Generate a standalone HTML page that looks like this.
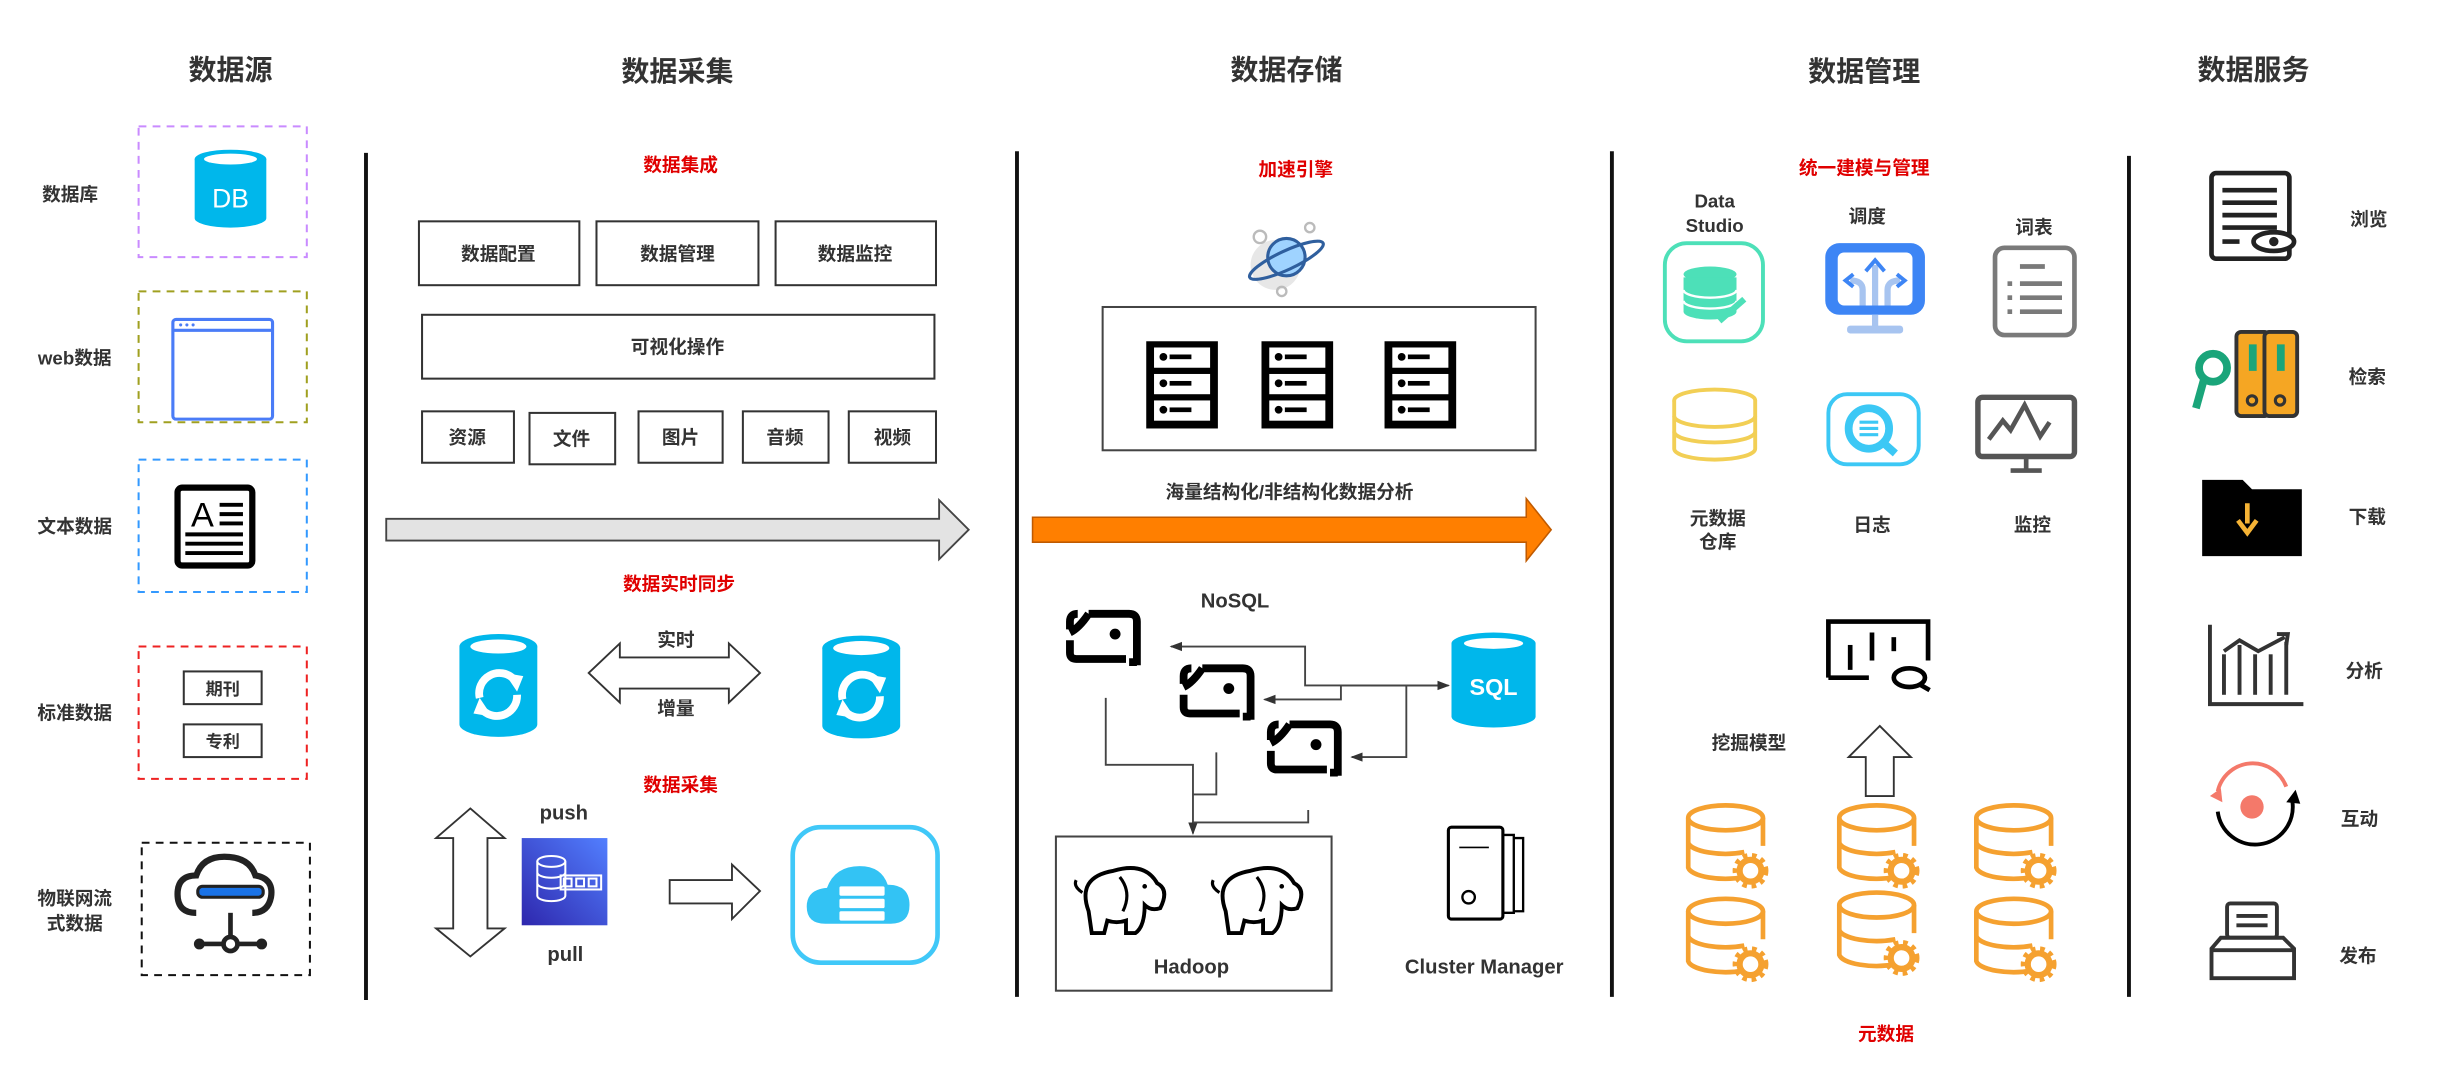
<!DOCTYPE html>
<html><head><meta charset="utf-8"><style>
html,body{margin:0;padding:0;background:#fff;}
svg{display:block;}
text{font-family:"Liberation Sans","Noto Sans CJK SC",sans-serif;font-weight:bold;fill:#333;text-anchor:middle;}
.t{font-size:18px;}
.r{fill:#e00000;font-size:12px;}
.s{font-size:12px;}
.b{fill:#fff;stroke:#333;stroke-width:1.3;}
</style></head><body>
<svg width="2442" height="1089" viewBox="0 0 1568 699" xmlns="http://www.w3.org/2000/svg">
<defs>
<marker id="ah" markerWidth="8" markerHeight="8" refX="7" refY="4" orient="auto" markerUnits="userSpaceOnUse"><path d="M0,1 L8,4 L0,7 Z" fill="#333"/></marker>
<linearGradient id="aws" x1="0" y1="1" x2="1" y2="0"><stop offset="0" stop-color="#2e27ad"/><stop offset="1" stop-color="#527fff"/></linearGradient>
<g id="dbg">
<ellipse cx="0" cy="-16" rx="24" ry="8" fill="none" stroke="#f5a130" stroke-width="3"/>
<path d="M-24,-16 V16 A24,8 0 0 0 12,22 M-24,0 A24,8 0 0 0 12,6 M24,-16 V2" fill="none" stroke="#f5a130" stroke-width="3"/>
<circle cx="16" cy="18" r="7" fill="none" stroke="#f5a130" stroke-width="4"/>
<circle cx="16" cy="18" r="10" fill="none" stroke="#f5a130" stroke-width="3" stroke-dasharray="3 3"/>
</g>
<g id="brk">
<path d="M16,5 H42 Q47,5 47,10 V38 M47,36 H42 M4,22 V30 Q4,34 8,34 H40 M4,15 V10 Q4,5 9,5 M4,17 Q10,14 16,5" fill="none" stroke="#000" stroke-width="5"/>
<circle cx="33" cy="18" r="3.5" fill="#000"/>
</g>
<g id="srv">
<rect x="0" y="0" width="46" height="56" fill="#000"/>
<rect x="5" y="4" width="36" height="13" fill="#fff"/><rect x="5" y="21" width="36" height="13" fill="#fff"/><rect x="5" y="38" width="36" height="13" fill="#fff"/>
<circle cx="11" cy="10" r="2.5" fill="#000"/><rect x="15" y="8.5" width="14" height="3" fill="#000"/>
<circle cx="11" cy="27" r="2.5" fill="#000"/><rect x="15" y="25.5" width="14" height="3" fill="#000"/>
<circle cx="11" cy="44" r="2.5" fill="#000"/><rect x="15" y="42.5" width="14" height="3" fill="#000"/>
</g>
<g id="syn">
<path d="M-25,-25 V25 A25,8 0 0 0 25,25 V-25 Z" fill="#00b7eb"/>
<ellipse cx="0" cy="-25" rx="25" ry="8" fill="#00b7eb"/>
<ellipse cx="0" cy="-25" rx="18" ry="4.5" fill="#fff"/>
<path d="M-12,8 A13,13 0 0 1 10,-4 M12,6 A13,13 0 0 1 -10,16" fill="none" stroke="#fff" stroke-width="5"/>
<path d="M4,-8 L16,-6 L12,4 Z M-4,20 L-16,18 L-12,8Z" fill="#fff"/>
</g>
<g id="ele">
<path d="M-22,8 Q-30,-14 -6,-18 Q14,-24 22,-10 Q30,-6 24,6 Q18,8 14,4 Q14,18 8,22 L2,22 L2,14 Q-4,16 -10,14 L-12,22 L-20,22 Z" fill="#fff" stroke="#000" stroke-width="2.5"/>
<path d="M-26,-4 Q-32,-8 -30,-12" fill="none" stroke="#000" stroke-width="2"/>
<circle cx="14" cy="-8" r="1.5" fill="#000"/>
<path d="M-2,-14 Q6,-4 0,8" fill="none" stroke="#000" stroke-width="2"/>
</g>
</defs>

<text class="t" x="148" y="51">数据源</text>
<text class="t" x="435" y="52">数据采集</text>
<text class="t" x="826" y="51">数据存储</text>
<text class="t" x="1197" y="52">数据管理</text>
<text class="t" x="1447" y="51">数据服务</text>

<g stroke="#111" stroke-width="2.5">
<line x1="235" y1="98" x2="235" y2="642"/>
<line x1="653" y1="97" x2="653" y2="640"/>
<line x1="1035" y1="97" x2="1035" y2="640"/>
<line x1="1367" y1="100" x2="1367" y2="640"/>
</g>

<text class="s" x="45" y="129">数据库</text>
<text class="s" x="48" y="234">web数据</text>
<text class="s" x="48" y="342">文本数据</text>
<text class="s" x="48" y="462">标准数据</text>
<text class="s" x="48" y="581">物联网流</text>
<text class="s" x="48" y="597">式数据</text>
<g fill="none" stroke-width="1.3" stroke-dasharray="5 4">
<rect x="89" y="81" width="108" height="84" stroke="#c98bff"/>
<rect x="89" y="187" width="108" height="84" stroke="#a0a020"/>
<rect x="89" y="295" width="108" height="85" stroke="#3399ff"/>
<rect x="89" y="415" width="108" height="85" stroke="#ee2222"/>
<rect x="91" y="541" width="108" height="85" stroke="#111"/>
</g>
<path d="M125,102 V140 A23,6 0 0 0 171,140 V102 Z" fill="#00b7eb"/>
<ellipse cx="148" cy="102" rx="23" ry="6" fill="#00b7eb"/>
<ellipse cx="148" cy="102" rx="17" ry="3.5" fill="#fff"/>
<text x="148" y="133" style="font-size:17px;font-weight:normal;fill:#fff">DB</text>
<rect x="111" y="205" width="64" height="64" rx="2" fill="#fff" stroke="#4a7cf7" stroke-width="2"/>
<line x1="111" y1="212" x2="175" y2="212" stroke="#4a7cf7" stroke-width="2"/>
<circle cx="116" cy="208.5" r="1" fill="#4a7cf7"/><circle cx="120" cy="208.5" r="1" fill="#4a7cf7"/><circle cx="124" cy="208.5" r="1" fill="#4a7cf7"/>
<rect x="114" y="313" width="48" height="50" rx="3" fill="#fff" stroke="#000" stroke-width="4"/>
<text x="130" y="338" style="font-size:22px;fill:#000;font-weight:normal">A</text>
<g stroke="#000" stroke-width="2.5"><line x1="141" y1="324" x2="156" y2="324"/><line x1="141" y1="330" x2="156" y2="330"/><line x1="141" y1="336" x2="156" y2="336"/><line x1="119" y1="343" x2="156" y2="343"/><line x1="119" y1="349" x2="156" y2="349"/><line x1="119" y1="355" x2="156" y2="355"/></g>
<rect x="118" y="431" width="50" height="21" class="b"/><text class="s" x="143" y="446" style="font-size:11px">期刊</text>
<rect x="118" y="465" width="50" height="21" class="b"/><text class="s" x="143" y="480" style="font-size:11px">专利</text>
<path d="M126,586 Q114,586 114,574 Q114,562 126,562 Q130,550 144,550 Q160,550 164,562 Q176,564 174,576 Q172,586 162,586" fill="none" stroke="#222" stroke-width="4"/>
<rect x="127" y="569" width="42" height="7" rx="3" fill="#1a73e8" stroke="#222" stroke-width="2"/>
<line x1="148" y1="586" x2="148" y2="602" stroke="#222" stroke-width="3"/>
<line x1="128" y1="606" x2="168" y2="606" stroke="#222" stroke-width="3"/>
<circle cx="148" cy="606" r="4.5" fill="#fff" stroke="#222" stroke-width="3"/>
<circle cx="128" cy="606" r="3.5" fill="#222"/><circle cx="168" cy="606" r="3.5" fill="#222"/>

<text class="r" x="437" y="110">数据集成</text>
<rect x="269" y="142" width="103" height="41" class="b"/><text class="s" x="320" y="167">数据配置</text>
<rect x="383" y="142" width="104" height="41" class="b"/><text class="s" x="435" y="167">数据管理</text>
<rect x="498" y="142" width="103" height="41" class="b"/><text class="s" x="549" y="167">数据监控</text>
<rect x="271" y="202" width="329" height="41" class="b"/><text class="s" x="435" y="227">可视化操作</text>
<rect x="271" y="264" width="59" height="33" class="b"/><text class="s" x="300" y="285">资源</text>
<rect x="340" y="265" width="55" height="33" class="b"/><text class="s" x="367" y="286">文件</text>
<rect x="410" y="264" width="54" height="33" class="b"/><text class="s" x="437" y="285">图片</text>
<rect x="477" y="264" width="55" height="33" class="b"/><text class="s" x="504" y="285">音频</text>
<rect x="545" y="264" width="56" height="33" class="b"/><text class="s" x="573" y="285">视频</text>
<path d="M248,333 H603 V321 L622,340 L603,359 V347 H248 Z" fill="#e3e3e3" stroke="#444" stroke-width="1.2"/>
<text class="r" x="436" y="379">数据实时同步</text>
<use href="#syn" x="320" y="440"/>
<use href="#syn" x="553" y="441"/>
<path d="M378,432 L398,413 V422 H468 V413 L488,432 L468,451 V442 H398 V451 Z" fill="#fff" stroke="#333" stroke-width="1.2"/>
<text class="s" x="434" y="415">实时</text>
<text class="s" x="434" y="459">增量</text>
<text class="r" x="437" y="508">数据采集</text>
<path d="M302,519 L324,538 H313 V596 H324 L302,614 L280,596 H291 V538 H280 Z" fill="#fff" stroke="#333" stroke-width="1.2"/>
<text class="s" x="362" y="526" style="font-size:13px">push</text>
<text class="s" x="363" y="617" style="font-size:13px">pull</text>
<rect x="335" y="538" width="55" height="56" fill="url(#aws)"/>
<g fill="none" stroke="#fff" stroke-width="1.3"><ellipse cx="354" cy="553" rx="9" ry="3.5"/><path d="M345,553 V575 A9,3.5 0 0 0 363,575 V553 M345,560 A9,3.5 0 0 0 363,560 M345,567 A9,3.5 0 0 0 363,567"/><rect x="360" y="562" width="26" height="9"/><rect x="362" y="564" width="5" height="5"/><rect x="370" y="564" width="5" height="5"/><rect x="378" y="564" width="5" height="5"/></g>
<path d="M430,565 H470 V555 L488,572 L470,590 V580 H430 Z" fill="#fff" stroke="#333" stroke-width="1.2"/>
<rect x="509" y="531" width="93" height="87" rx="18" fill="#fff" stroke="#40c8f8" stroke-width="3"/>
<path d="M530,593 Q518,593 518,582 Q518,571 531,570 Q536,556 552,556 Q566,556 570,568 Q584,568 584,581 Q584,593 572,593 Z" fill="#33c3f4"/>
<rect x="539" y="569" width="29" height="6" rx="1" fill="#fff"/><rect x="539" y="577" width="29" height="6" rx="1" fill="#fff"/><rect x="539" y="585" width="29" height="6" rx="1" fill="#fff"/>

<text class="r" x="832" y="113">加速引擎</text>
<circle cx="819" cy="170" r="16" fill="#ddd" opacity="0.7"/>
<circle cx="826" cy="165" r="12" fill="#9fd3ff" stroke="#2f5f9e" stroke-width="2"/>
<ellipse cx="826" cy="167" rx="26" ry="6" fill="none" stroke="#2f5f9e" stroke-width="2" transform="rotate(-25 826 167)"/>
<circle cx="809" cy="152" r="4" fill="none" stroke="#bbb" stroke-width="1.5"/><circle cx="841" cy="146" r="3" fill="none" stroke="#bbb" stroke-width="1.5"/><circle cx="823" cy="187" r="3" fill="none" stroke="#bbb" stroke-width="1.5"/>
<rect x="708" y="197" width="278" height="92" fill="#fff" stroke="#444" stroke-width="1.3"/>
<use href="#srv" x="736" y="219"/>
<use href="#srv" x="810" y="219"/>
<use href="#srv" x="889" y="219"/>
<text class="s" x="828" y="320">海量结构化/非结构化数据分析</text>
<path d="M663,332 H980 V320 L996,340 L980,360 V348 H663 Z" fill="#ff7f00" stroke="#c05a00" stroke-width="1"/>
<text class="s" x="793" y="390" style="font-size:13px">NoSQL</text>
<use href="#brk" x="683" y="389"/>
<use href="#brk" x="756" y="424"/>
<use href="#brk" x="812" y="460"/>
<path d="M932,413 V460 A27,7 0 0 0 986,460 V413 Z" fill="#00b7eb"/>
<ellipse cx="959" cy="413" rx="27" ry="7" fill="#00b7eb"/>
<ellipse cx="959" cy="413" rx="19" ry="3.5" fill="#fff"/>
<text x="959" y="446" style="font-size:15px;fill:#fff">SQL</text>
<g fill="none" stroke="#444" stroke-width="1.2">
<path d="M930,440 H838 V415 H752" marker-end="url(#ah)"/>
<path d="M930,440 H861 V449 H812" marker-end="url(#ah)"/>
<path d="M903,440 V486 H868" marker-end="url(#ah)"/>
<path d="M880,440 H930" marker-end="url(#ah)"/>
<path d="M710,448 V491 H766 V535" marker-end="url(#ah)"/>
<path d="M781,483 V510 H766"/>
<path d="M840,520 V528 H766"/>
</g>
<rect x="678" y="537" width="177" height="99" fill="#fff" stroke="#444" stroke-width="1.3"/>
<use href="#ele" x="721" y="577"/>
<use href="#ele" x="809" y="577"/>
<text class="s" x="765" y="625" style="font-size:13px">Hadoop</text>
<rect x="930" y="531" width="35" height="59" rx="2" fill="#fff" stroke="#000" stroke-width="2"/>
<path d="M965,536 H972 V586 H965 M972,538 H978 V585 H972" fill="none" stroke="#000" stroke-width="1.5"/>
<line x1="937" y1="544" x2="956" y2="544" stroke="#000" stroke-width="1"/>
<circle cx="943" cy="576" r="4" fill="none" stroke="#000" stroke-width="1.5"/>
<text class="s" x="953" y="625" style="font-size:13px">Cluster Manager</text>

<text class="r" x="1197" y="112">统一建模与管理</text>
<text class="s" x="1101" y="133">Data</text>
<text class="s" x="1101" y="149">Studio</text>
<text class="s" x="1199" y="143">调度</text>
<text class="s" x="1306" y="150">词表</text>
<rect x="1069" y="156" width="63" height="63" rx="14" fill="#fff" stroke="#4de0b8" stroke-width="2.5"/>
<ellipse cx="1098" cy="176" rx="17" ry="5" fill="#4de0b8"/>
<path d="M1081,178 V200 A17,5 0 0 0 1115,200 V178" fill="#4de0b8"/>
<path d="M1081,186 A17,5 0 0 0 1115,186 M1081,193 A17,5 0 0 0 1115,193" fill="none" stroke="#fff" stroke-width="1.5"/>
<path d="M1104,206 L1120,192" stroke="#4de0b8" stroke-width="4"/>
<rect x="1172" y="156" width="64" height="46" rx="9" fill="#3d85f5"/>
<rect x="1180" y="162" width="48" height="34" rx="4" fill="#fff"/>
<path d="M1204,196 V170 M1196,196 V186 Q1196,180 1188,180 M1212,196 V186 Q1212,180 1220,180" stroke="#a7c4f0" stroke-width="4" fill="none"/>
<path d="M1198,174 L1204,167 L1210,174 M1190,176 L1185,180 L1190,184 M1218,176 L1223,180 L1218,184" stroke="#3d85f5" stroke-width="2.5" fill="none"/>
<rect x="1202" y="202" width="4" height="8" fill="#a7c4f0"/><rect x="1186" y="209" width="36" height="5" rx="2" fill="#a7c4f0"/>
<rect x="1281" y="159" width="51" height="56" rx="6" fill="#fff" stroke="#7a7a7a" stroke-width="3"/>
<g stroke="#7a7a7a" stroke-width="3"><line x1="1297" y1="171" x2="1313" y2="171"/><line x1="1289" y1="182" x2="1292" y2="182"/><line x1="1297" y1="182" x2="1324" y2="182"/><line x1="1289" y1="191" x2="1292" y2="191"/><line x1="1297" y1="191" x2="1324" y2="191"/><line x1="1289" y1="200" x2="1292" y2="200"/><line x1="1297" y1="200" x2="1324" y2="200"/></g>
<g fill="#fff" stroke="#f2cf55" stroke-width="2.5">
<ellipse cx="1101" cy="257" rx="26" ry="7"/>
<path d="M1075,257 V288 A26,7 0 0 0 1127,288 V257"/>
<path d="M1075,267 A26,7 0 0 0 1127,267 M1075,277 A26,7 0 0 0 1127,277" fill="none"/>
</g>
<rect x="1174" y="253" width="58" height="45" rx="12" fill="#fff" stroke="#3cc8f5" stroke-width="2.5"/>
<circle cx="1200" cy="275" r="13" fill="#fff" stroke="#3cc8f5" stroke-width="5"/>
<path d="M1209,284 L1217,291" stroke="#3cc8f5" stroke-width="5"/>
<g stroke="#3cc8f5" stroke-width="2"><line x1="1194" y1="271" x2="1206" y2="271"/><line x1="1194" y1="275" x2="1206" y2="275"/><line x1="1194" y1="279" x2="1206" y2="279"/></g>
<rect x="1270" y="255" width="62" height="38" rx="3" fill="#fff" stroke="#555" stroke-width="3.5"/>
<path d="M1277,282 L1286,270 L1291,276 L1300,260 L1310,280 L1316,271" fill="none" stroke="#555" stroke-width="3"/>
<line x1="1301" y1="293" x2="1301" y2="302" stroke="#555" stroke-width="3"/><line x1="1291" y1="302" x2="1311" y2="302" stroke="#555" stroke-width="3"/>
<text class="s" x="1103" y="337">元数据</text>
<text class="s" x="1103" y="352">仓库</text>
<text class="s" x="1202" y="341">日志</text>
<text class="s" x="1305" y="341">监控</text>
<path d="M1174,435 V399 H1238 V424 M1200,435 H1174" fill="none" stroke="#000" stroke-width="3"/>
<g stroke="#000" stroke-width="3"><line x1="1188" y1="414" x2="1188" y2="430"/><line x1="1202" y1="406" x2="1202" y2="424"/><line x1="1216" y1="409" x2="1216" y2="418"/></g>
<ellipse cx="1226" cy="435" rx="10" ry="6" fill="none" stroke="#000" stroke-width="3"/>
<line x1="1232" y1="439" x2="1239" y2="443" stroke="#000" stroke-width="3"/>
<text class="s" x="1123" y="481">挖掘模型</text>
<path d="M1207,466 L1227,486 H1216 V511 H1198 V486 H1187 Z" fill="#fff" stroke="#333" stroke-width="1.2"/>
<use href="#dbg" x="1108" y="541"/>
<use href="#dbg" x="1205" y="541"/>
<use href="#dbg" x="1293" y="541"/>
<use href="#dbg" x="1108" y="601"/>
<use href="#dbg" x="1205" y="597"/>
<use href="#dbg" x="1293" y="601"/>
<text class="r" x="1211" y="668">元数据</text>

<rect x="1420" y="111" width="50" height="55" rx="3" fill="none" stroke="#222" stroke-width="3"/>
<g stroke="#222" stroke-width="3"><line x1="1427" y1="122" x2="1462" y2="122"/><line x1="1427" y1="130" x2="1462" y2="130"/><line x1="1427" y1="138" x2="1462" y2="138"/><line x1="1427" y1="146" x2="1462" y2="146"/><line x1="1427" y1="155" x2="1438" y2="155"/></g>
<ellipse cx="1460" cy="155" rx="13" ry="6" fill="#fff" stroke="#222" stroke-width="3"/>
<circle cx="1460" cy="155" r="3" fill="#222"/>
<text class="s" x="1521" y="145">浏览</text>
<rect x="1436" y="213" width="21" height="54" rx="3" fill="#f5a623" stroke="#333" stroke-width="2.5"/>
<rect x="1454" y="213" width="21" height="54" rx="3" fill="#f5a623" stroke="#333" stroke-width="2.5"/>
<rect x="1444" y="221" width="5" height="17" fill="#1aa57a"/><rect x="1462" y="221" width="5" height="17" fill="#1aa57a"/>
<circle cx="1446" cy="257" r="3" fill="none" stroke="#333" stroke-width="2"/><circle cx="1464" cy="257" r="3" fill="none" stroke="#333" stroke-width="2"/>
<circle cx="1421" cy="236" r="9" fill="#fff" stroke="#1aa57a" stroke-width="5"/>
<line x1="1415" y1="244" x2="1410" y2="262" stroke="#1aa57a" stroke-width="5"/>
<text class="s" x="1520" y="246">检索</text>
<path d="M1414,308 H1440 L1446,314 H1478 V357 H1414 Z" fill="#000"/>
<path d="M1443,323 V336 M1437,334 L1443,342 L1449,334" stroke="#f5b335" stroke-width="3" fill="none"/>
<text class="s" x="1520" y="336">下载</text>
<path d="M1419,401 V452 H1479" fill="none" stroke="#333" stroke-width="2.5"/>
<g stroke="#333" stroke-width="2.5"><line x1="1428" y1="420" x2="1428" y2="446"/><line x1="1438" y1="414" x2="1438" y2="446"/><line x1="1448" y1="420" x2="1448" y2="446"/><line x1="1458" y1="420" x2="1458" y2="446"/><line x1="1468" y1="412" x2="1468" y2="446"/></g>
<path d="M1428,418 L1438,411 L1450,418 L1467,409" fill="none" stroke="#333" stroke-width="2.5"/>
<path d="M1462,407 L1469,407 L1468,414" fill="none" stroke="#333" stroke-width="2.5"/>
<text class="s" x="1518" y="435">分析</text>
<path d="M1424,508 A23,23 0 0 1 1468,505" fill="none" stroke="#f4796a" stroke-width="2.5"/>
<path d="M1419,511 L1426,506 L1427,515Z" fill="#f4796a"/>
<path d="M1424,521 A23,23 0 0 0 1472,515" fill="none" stroke="#000" stroke-width="2.5"/>
<path d="M1468,515 L1474,507 L1477,516Z" fill="#000"/>
<circle cx="1446" cy="518" r="7.5" fill="#f4796a"/>
<text class="s" x="1515" y="530">互动</text>
<rect x="1430" y="580" width="32" height="22" rx="2" fill="#fff" stroke="#333" stroke-width="2.5"/>
<g stroke="#333" stroke-width="2.5"><line x1="1436" y1="588" x2="1456" y2="588"/><line x1="1436" y1="594" x2="1456" y2="594"/></g>
<path d="M1426,602 H1466 L1473,609 V628 H1420 V609 Z" fill="#fff" stroke="#333" stroke-width="2.5"/>
<line x1="1420" y1="610" x2="1473" y2="610" stroke="#333" stroke-width="2.5"/>
<text class="s" x="1514" y="618">发布</text>
</svg>
</body></html>
